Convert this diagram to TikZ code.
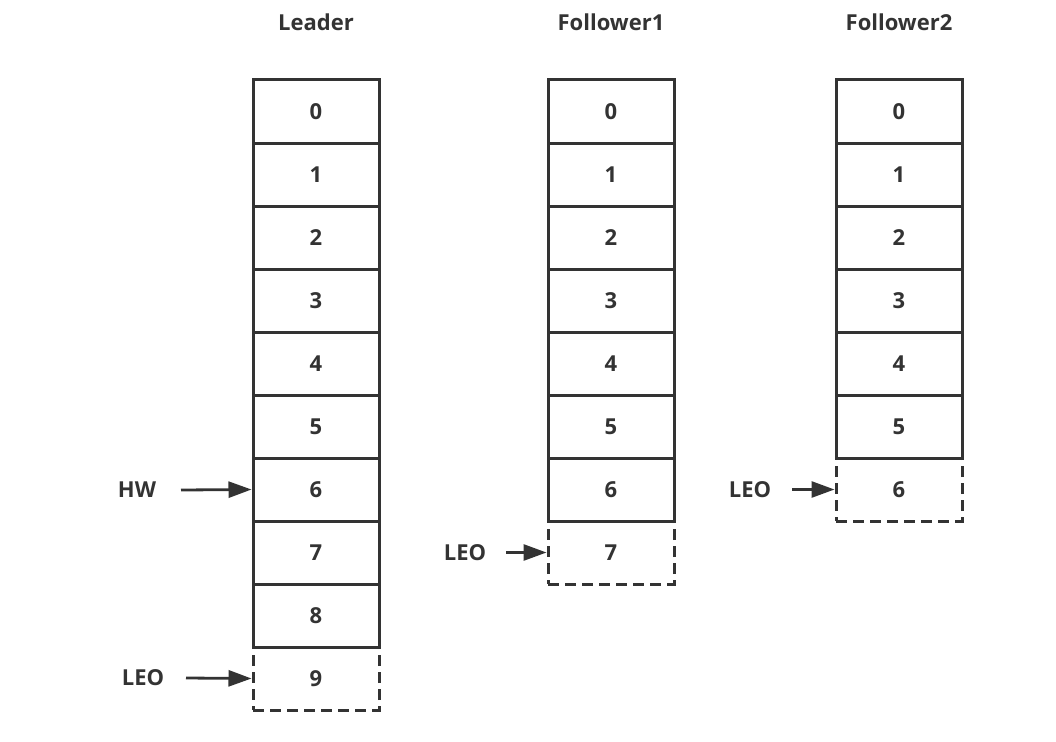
\documentclass[tikz,border=0pt]{standalone}
\usepackage{fontspec}
\setmainfont{Open Sans}
\usetikzlibrary{arrows.meta}
\definecolor{ink}{HTML}{333333}
\tikzset{
  cell/.style={draw=ink, line width=3pt, minimum width=126pt, minimum height=63pt, inner sep=0pt, text=ink, font=\fontsize{22}{26}\selectfont\bfseries},
  newcell/.style={cell, dash pattern=on 11pt off 6pt},
  lbl/.style={text=ink, inner sep=0pt, font=\fontsize{22}{26}\selectfont\bfseries},
  ptr/.style={draw=ink, line width=2.8pt, -{Triangle[length=23pt,width=16pt]}, shorten >=0pt}
}
\begin{document}
\begin{tikzpicture}[x=1pt,y=-1pt]
\useasboundingbox (0,0) rectangle (1056,741);
% titles
\node[lbl] (tL) at (316,22) {Leader};
\node[lbl] (tF1) at (611,22) {Follower1};
\node[lbl] (tF2) at (899,22) {Follower2};
% Leader
\foreach \i in {0,...,8} {
  \node[cell] (L\i) at (316,{111.5+63*\i}) {\i};
}
\node[newcell] (L9) at (316,678.5) {9};
% Follower1
\foreach \i in {0,...,6} {
  \node[cell] (A\i) at (611,{111.5+63*\i}) {\i};
}
\node[newcell] (A7) at (611,552.5) {7};
% Follower2
\foreach \i in {0,...,5} {
  \node[cell] (B\i) at (899,{111.5+63*\i}) {\i};
}
\node[newcell] (B6) at (899,489.5) {6};
% pointers
\node[lbl] (hw) at (137,490) {HW};
\coordinate (hws) at (181,490);
\draw[ptr] (hws) -- (L6.west);
\node[lbl] (leoL) at (143,678) {LEO};
\coordinate (leoLs) at (186,678);
\draw[ptr] (leoLs) -- (L9.west);
\node[lbl] (leoA) at (465,553) {LEO};
\coordinate (leoAs) at (506,552.5);
\draw[ptr] (leoAs) -- (A7.west);
\node[lbl] (leoB) at (750,490) {LEO};
\coordinate (leoBs) at (792,489.5);
\draw[ptr] (leoBs) -- (B6.west);
\end{tikzpicture}
\end{document}
